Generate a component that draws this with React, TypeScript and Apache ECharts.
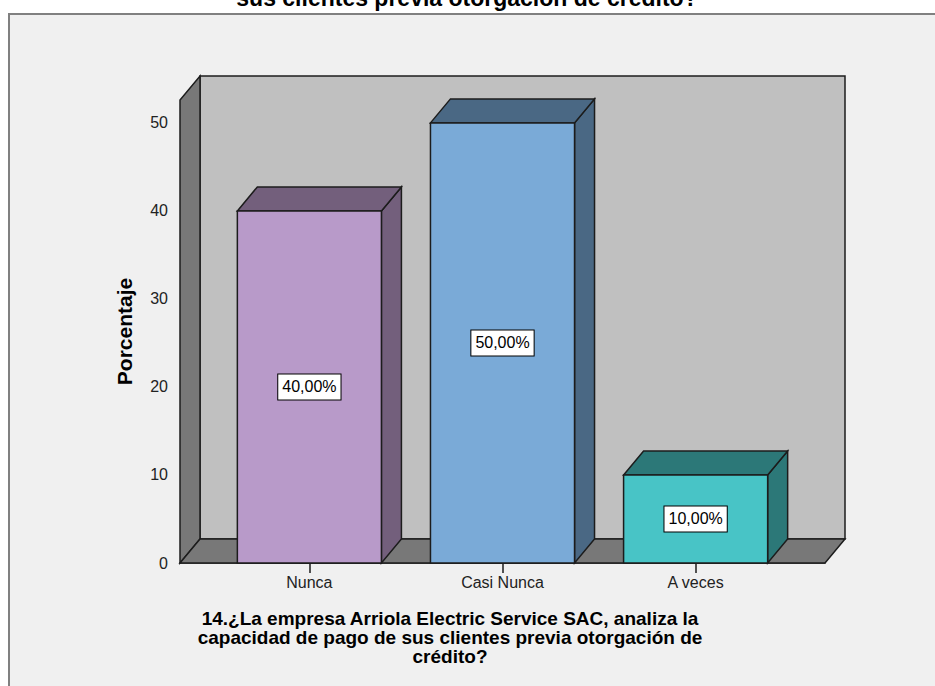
import React, { useEffect, useRef } from "react";
import * as echarts from "echarts";

// Response categories and their percentages
const categories = ["Nunca", "Casi Nunca", "A veces"];
const percentages = [40, 50, 10];
const yTickValues = [0, 10, 20, 30, 40, 50];

// Face colours of each 3D bar (front / top+side)
const frontColors = ["#b89ac9", "#7aaad7", "#48c4c6"];
const shadeColors = ["#735f7c", "#4a6884", "#2c7878"];

const chartTitle = "sus clientes previa otorgación de crédito?";
const xTitleLines = [
  "14.¿La empresa Arriola Electric Service SAC, analiza la",
  "capacidad de pago de sus clientes previa otorgación de",
  "crédito?",
];

// Axis extents
const X_MIN = -0.67;
const X_MAX = 2.67;
const Y_MAX = 52.6;

// Pseudo-3D depth offset in pixels and half bar width in category units
const DEPTH_X = 20;
const DEPTH_Y = -24;
const HALF_BAR = 0.373;

const FONT = "'Liberation Sans', Arial, sans-serif";
const EDGE = "#1c1c1c";

const fmtPct = (v: number) => v.toFixed(2).replace(".", ",") + "%";

export default function App() {
  const ref = useRef<HTMLDivElement>(null);

  useEffect(() => {
    if (!ref.current) return;
    const chart = echarts.init(ref.current, null, { renderer: "svg" });

    const wallsRender = (_params: any, api: any) => {
      const [x0, y0] = api.coord([X_MIN, 0]);
      const [x1, y1] = api.coord([X_MAX, Y_MAX]);
      const style = { stroke: EDGE, lineWidth: 1.5 };
      return {
        type: "group",
        children: [
          {
            type: "rect",
            shape: {
              x: x0 + DEPTH_X,
              y: y1 + DEPTH_Y,
              width: x1 - x0,
              height: y0 - y1,
            },
            style: { ...style, fill: "#c0c0c0" },
          },
          {
            type: "polygon",
            shape: {
              points: [
                [x0, y0],
                [x0, y1],
                [x0 + DEPTH_X, y1 + DEPTH_Y],
                [x0 + DEPTH_X, y0 + DEPTH_Y],
              ],
            },
            style: { ...style, fill: "#787878" },
          },
          {
            type: "polygon",
            shape: {
              points: [
                [x0, y0],
                [x1, y0],
                [x1 + DEPTH_X, y0 + DEPTH_Y],
                [x0 + DEPTH_X, y0 + DEPTH_Y],
              ],
            },
            style: { ...style, fill: "#787878" },
          },
        ],
      };
    };

    const barsRender = (params: any, api: any) => {
      const i = api.value(0);
      const v = api.value(1);
      const [xl, yb] = api.coord([i - HALF_BAR, 0]);
      const [xr, yt] = api.coord([i + HALF_BAR, v]);
      const [xc, ym] = api.coord([i, v / 2]);
      const front = frontColors[params.dataIndex];
      const shade = shadeColors[params.dataIndex];
      const edge = { stroke: EDGE, lineWidth: 1.5 };
      return {
        type: "group",
        children: [
          {
            type: "polygon",
            shape: {
              points: [
                [xr, yt],
                [xr + DEPTH_X, yt + DEPTH_Y],
                [xr + DEPTH_X, yb + DEPTH_Y],
                [xr, yb],
              ],
            },
            style: { ...edge, fill: shade },
          },
          {
            type: "polygon",
            shape: {
              points: [
                [xl, yt],
                [xr, yt],
                [xr + DEPTH_X, yt + DEPTH_Y],
                [xl + DEPTH_X, yt + DEPTH_Y],
              ],
            },
            style: { ...edge, fill: shade },
          },
          {
            type: "rect",
            shape: { x: xl, y: yt, width: xr - xl, height: yb - yt },
            style: { ...edge, fill: front },
          },
          {
            type: "text",
            x: xc,
            y: ym,
            style: {
              text: fmtPct(v),
              fill: "#000",
              font: `16px ${FONT}`,
              align: "center",
              verticalAlign: "middle",
              backgroundColor: "#ffffff",
              borderColor: "#000",
              borderWidth: 1,
              padding: [5, 4, 4, 4],
            },
          },
        ],
      };
    };

    chart.setOption({
      animation: false,
      backgroundColor: "#ffffff",
      grid: { left: 180, right: 110, top: 100, bottom: 123 },
      xAxis: {
        type: "value",
        min: X_MIN,
        max: X_MAX,
        splitLine: { show: false },
        axisLine: { show: true, lineStyle: { color: EDGE, width: 1.5 } },
        axisTick: {
          show: true,
          customValues: [0, 1, 2],
          length: 10,
          lineStyle: { color: EDGE, width: 1.5 },
        },
        axisLabel: {
          customValues: [0, 1, 2],
          formatter: (v: number) => categories[Math.round(v)] ?? "",
          fontFamily: FONT,
          fontSize: 16,
          color: "#222",
          margin: 11,
        },
      },
      yAxis: {
        type: "value",
        min: 0,
        max: Y_MAX,
        splitLine: { show: false },
        axisLine: { show: true, lineStyle: { color: EDGE, width: 1.5 } },
        axisTick: {
          show: true,
          customValues: yTickValues,
          length: 10,
          lineStyle: { color: EDGE, width: 1.5 },
        },
        axisLabel: {
          customValues: yTickValues,
          fontFamily: FONT,
          fontSize: 16,
          color: "#222",
          margin: 12,
        },
        name: "Porcentaje",
        nameLocation: "middle",
        nameRotate: 90,
        nameGap: 45,
        nameTextStyle: {
          fontFamily: FONT,
          fontSize: 21,
          fontWeight: "bold",
          color: "#000",
        },
      },
      graphic: [
        {
          type: "rect",
          z: -10,
          shape: { x: 9, y: 14, width: 960, height: 720 },
          style: { fill: "#f0f0f0", stroke: "#808080", lineWidth: 2 },
        },
        {
          type: "text",
          x: 467,
          y: -2,
          style: {
            text: chartTitle,
            font: `bold 23px ${FONT}`,
            fill: "#000",
            align: "center",
            verticalAlign: "middle",
          },
        },
        {
          type: "text",
          x: 450,
          y: 609,
          style: {
            text: xTitleLines.join("\n"),
            font: `bold 19px ${FONT}`,
            lineHeight: 19,
            fill: "#000",
            align: "center",
            verticalAlign: "top",
          },
        },
      ],
      series: [
        {
          type: "custom",
          silent: true,
          clip: false,
          data: [[0, 0]],
          renderItem: wallsRender,
          z: 1,
        },
        {
          type: "custom",
          clip: false,
          data: percentages.map((v, i) => [i, v]),
          renderItem: barsRender,
          z: 3,
        },
      ],
    });

    return () => chart.dispose();
  }, []);

  return (
    <div
      ref={ref}
      style={{ position: "fixed", left: 0, top: 0, width: 935, height: 686 }}
    />
  );
}
